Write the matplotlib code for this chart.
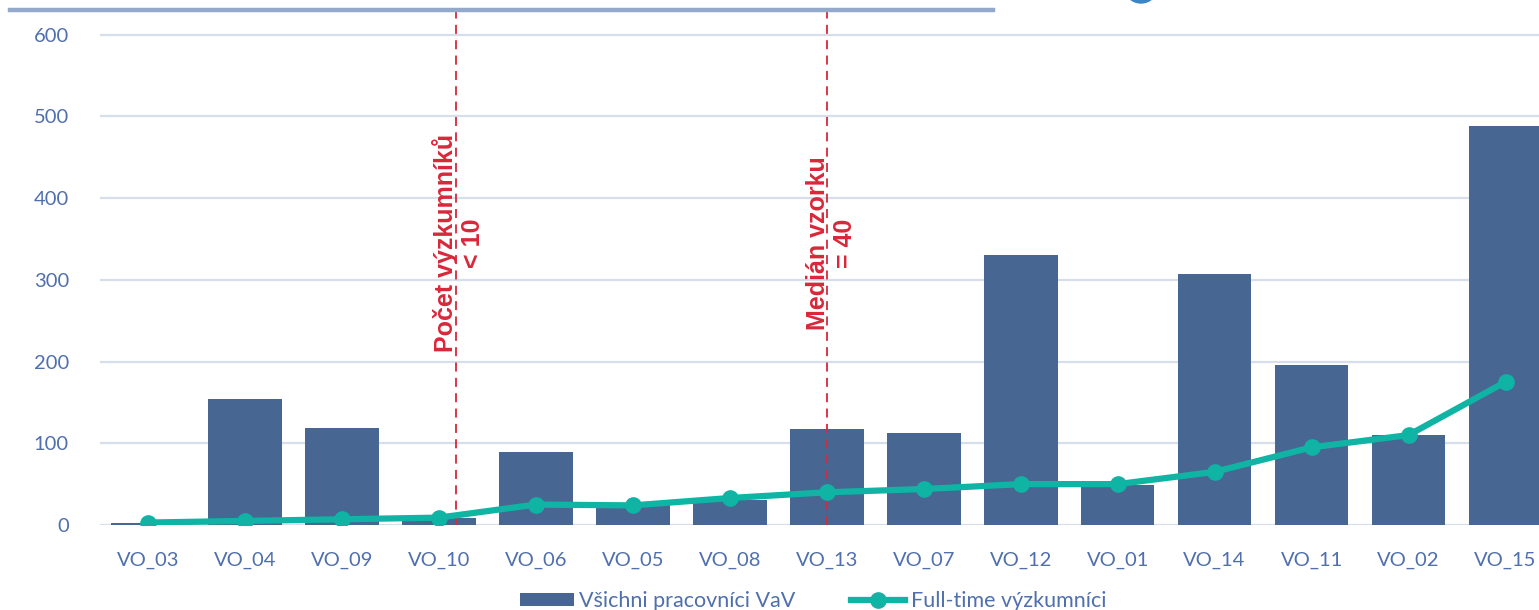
import numpy as np
import matplotlib
matplotlib.use("Agg")
import matplotlib.pyplot as plt
from matplotlib.lines import Line2D
from matplotlib.patches import Ellipse

categories = ["VO_03", "VO_04", "VO_09", "VO_10", "VO_06", "VO_05", "VO_08", "VO_13",
              "VO_07", "VO_12", "VO_01", "VO_14", "VO_11", "VO_02", "VO_15"]
all_staff = [2, 154, 119, 9, 89, 27, 31, 117, 112, 330, 49, 307, 196, 110, 488]
full_time = [3, 5, 7, 9, 25, 24, 33, 40, 44, 50, 50, 65, 95, 110, 175]
yticks = [0, 100, 200, 300, 400, 500, 600]
cut_small = 3.18   # "< 10" threshold position
cut_median = 7.0   # median = 40 position

bar_col = "#476692"
line_col = "#0fb4a4"
red = "#d8283a"
tick_col = "#4f6fad"

plt.rcParams['font.family'] = ['Lato', 'DejaVu Sans']

fig = plt.figure(figsize=(15.39, 6.10), dpi=100)
ax = fig.add_axes([99.5 / 1539, 85 / 610, 1454.5 / 1539, 515 / 610])

x = np.arange(len(categories))
bars = ax.bar(x, all_staff, width=0.76, color=bar_col, zorder=2, label="Všichni pracovníci VaV")
line, = ax.plot(x, full_time, color=line_col, lw=4.5, marker="o", ms=11, zorder=4,
                label="Full-time výzkumníci")

ax.set_xlim(-0.5, len(categories) - 0.5)
ax.set_ylim(0, 630)
ax.set_yticks(yticks)
ax.set_xticks(x)
ax.set_xticklabels(categories)
ax.tick_params(length=0, labelsize=14.5, colors=tick_col)
ax.tick_params(axis="x", pad=19)
ax.tick_params(axis="y", pad=22)
ax.yaxis.grid(True, color="#d6deec", lw=1.6, zorder=0)
ax.set_axisbelow(True)
for s in ax.spines.values():
    s.set_visible(False)

for xv in (cut_small, cut_median):
    ax.axvline(xv, color=red, lw=1.3, ls=(0, (5, 3.5)), zorder=3)

ann_font = ['Liberation Sans', 'DejaVu Sans']
ax.text(cut_small + 0.02, 345, "Počet výzkumníků\n< 10", rotation=90, color=red,
        fontsize=18, fontweight="bold", family=ann_font, ha="center", va="center",
        multialignment="center", linespacing=1.15, zorder=5)
ax.text(cut_median + 0.05, 345, "Medián vzorku\n= 40", rotation=90, color=red,
        fontsize=18, fontweight="bold", family=ann_font, ha="center", va="center",
        multialignment="center", linespacing=1.15, zorder=5)

# slide decoration
fig.add_artist(Line2D([10 / 1539, 993 / 1539], [1 - 10 / 610, 1 - 10 / 610],
                      color="#93a9cb", lw=3.2, transform=fig.transFigure))
fig.add_artist(Ellipse((1141 / 1539, 1 + 14 / 610), 34 / 1539, 34 / 610,
                       color="#3d86c6", transform=fig.transFigure))

leg = fig.legend([bars, line], ["Všichni pracovníci VaV", "Full-time výzkumníci"],
                 loc="center", bbox_to_anchor=(813 / 1539, 9 / 610), ncol=2, frameon=False,
                 fontsize=15.5, handlelength=2.5, handleheight=0.6, columnspacing=2.6,
                 handletextpad=0.25, borderaxespad=0)
for t in leg.get_texts():
    t.set_color(tick_col)

fig.savefig("out.png", dpi=100)
